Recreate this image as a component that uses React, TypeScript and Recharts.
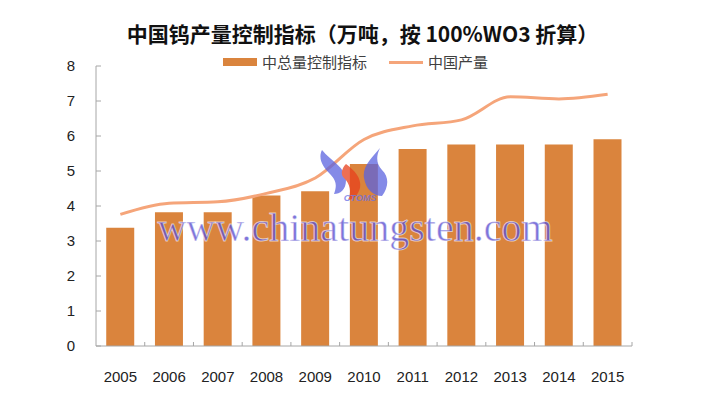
import React from 'react';
import { Bar, ComposedChart, Line, XAxis, YAxis } from 'recharts';

const years = ['2005', '2006', '2007', '2008', '2009', '2010', '2011', '2012', '2013', '2014', '2015'];
const quota = [3.38, 3.82, 3.82, 4.3, 4.42, 5.2, 5.63, 5.76, 5.76, 5.76, 5.91];
const output = [3.76, 4.08, 4.12, 4.36, 4.8, 5.9, 6.29, 6.46, 7.12, 7.06, 7.19];
const yTicks = [0, 1, 2, 3, 4, 5, 6, 7, 8];

const data = years.map((year, i) => ({ year, quota: quota[i], output: output[i] }));

const W = 710;
const H = 398;
const LEFT = 96;
const RIGHT = 78;
const band = (W - LEFT - RIGHT) / years.length;
const barColor = '#DA843D';
const lineColor = '#F5A57A';
const axisColor = '#A6A6A6';
const labelFont = '"Liberation Sans", "Open Sans", sans-serif';
const cjkFont = '"Noto Sans CJK SC", sans-serif';

const XTick = (props: any) => {
  const { x, y, payload } = props;
  return (
    <g>
      <line x1={x + band / 2} x2={x + band / 2} y1={y} y2={y - 4} stroke={axisColor} />
      <text x={x} y={y + 36} textAnchor='middle' fontSize={15} fill='#222' fontFamily={labelFont}>
        {payload.value}
      </text>
    </g>
  );
};

const YTick = (props: any) => {
  const { x, y, payload } = props;
  return (
    <g>
      <line x1={x} x2={x + 5} y1={y} y2={y} stroke={axisColor} />
      <text x={x - 21} y={y} dy='0.35em' textAnchor='end' fontSize={15} fill='#222' fontFamily={labelFont}>
        {payload.value}
      </text>
    </g>
  );
};

// site watermark drawn over the plot, as in the source image
const Watermark = () => (
  <svg width={W} height={H} style={{ position: 'absolute', left: 0, top: 0, pointerEvents: 'none' }}>
    <g opacity={0.75}>
      <path d='M322,150 C330,160 346,168 346,180 C346,190 340,194 334,194 C336,188 338,182 330,174 C322,166 318,158 322,150 Z' fill='#5b63e0' />
      <path d='M380,148 C372,158 362,166 364,178 C366,190 374,196 382,196 C388,188 390,178 382,170 C376,164 376,156 380,148 Z' fill='#5b63e0' />
      <path d='M346,164 C354,170 362,178 360,188 C358,196 352,200 348,200 C352,192 350,184 344,178 C340,174 342,168 346,164 Z' fill='#e8401c' />
      <text x={360} y={201} textAnchor='middle' fontSize={9} fontStyle='italic' fontWeight='bold' fill='#6a70e6' fontFamily={labelFont}>
        CTOMS
      </text>
    </g>
    <text
      x={355}
      y={241}
      textAnchor='middle'
      fontSize={40}
      fontFamily='"Liberation Serif", serif'
      fill='#5a4fd0'
      fillOpacity={0.8}
      stroke='#ffffff'
      strokeOpacity={0.6}
      strokeWidth={1}
    >
      www.chinatungsten.com
    </text>
  </svg>
);

export default function App() {
  return (
    <div style={{ position: 'absolute', left: 0, top: 0, width: W, height: H, background: '#fff' }}>
      <div
        style={{
          position: 'absolute',
          left: 0,
          top: 19,
          width: 725,
          textAlign: 'center',
          fontFamily: cjkFont,
          fontWeight: 'bold',
          fontSize: 21,
          color: '#111',
          lineHeight: '28px',
        }}
      >
        中国钨产量控制指标（万吨，按 100%WO3 折算）
      </div>
      <div
        style={{
          position: 'absolute',
          left: 223,
          top: 52,
          display: 'flex',
          alignItems: 'center',
          fontFamily: cjkFont,
          fontSize: 15,
          color: '#404040',
          lineHeight: '20px',
        }}
      >
        <span style={{ display: 'inline-block', width: 34, height: 8, background: barColor, marginRight: 5 }} />
        <span>中总量控制指标</span>
        <span style={{ display: 'inline-block', width: 34, height: 3, background: lineColor, marginLeft: 22, marginRight: 5 }} />
        <span>中国产量</span>
      </div>
      <ComposedChart
        width={W}
        height={H}
        data={data}
        margin={{ top: 66, right: RIGHT, bottom: 0, left: 0 }}
        barCategoryGap='21%'
      >
        <XAxis
          dataKey='year'
          height={52}
          axisLine={{ stroke: axisColor }}
          tickLine={false}
          tickSize={0}
          tickMargin={0}
          tick={<XTick />}
          interval={0}
        />
        <YAxis
          width={LEFT}
          domain={[0, 8]}
          ticks={yTicks}
          axisLine={{ stroke: axisColor }}
          tickLine={false}
          tickSize={0}
          tickMargin={0}
          tick={<YTick />}
          interval={0}
        />
        <Bar dataKey='quota' fill={barColor} isAnimationActive={false} />
        <Line
          type='monotone'
          dataKey='output'
          stroke={lineColor}
          strokeWidth={3}
          dot={false}
          isAnimationActive={false}
        />
      </ComposedChart>
      <Watermark />
    </div>
  );
}
